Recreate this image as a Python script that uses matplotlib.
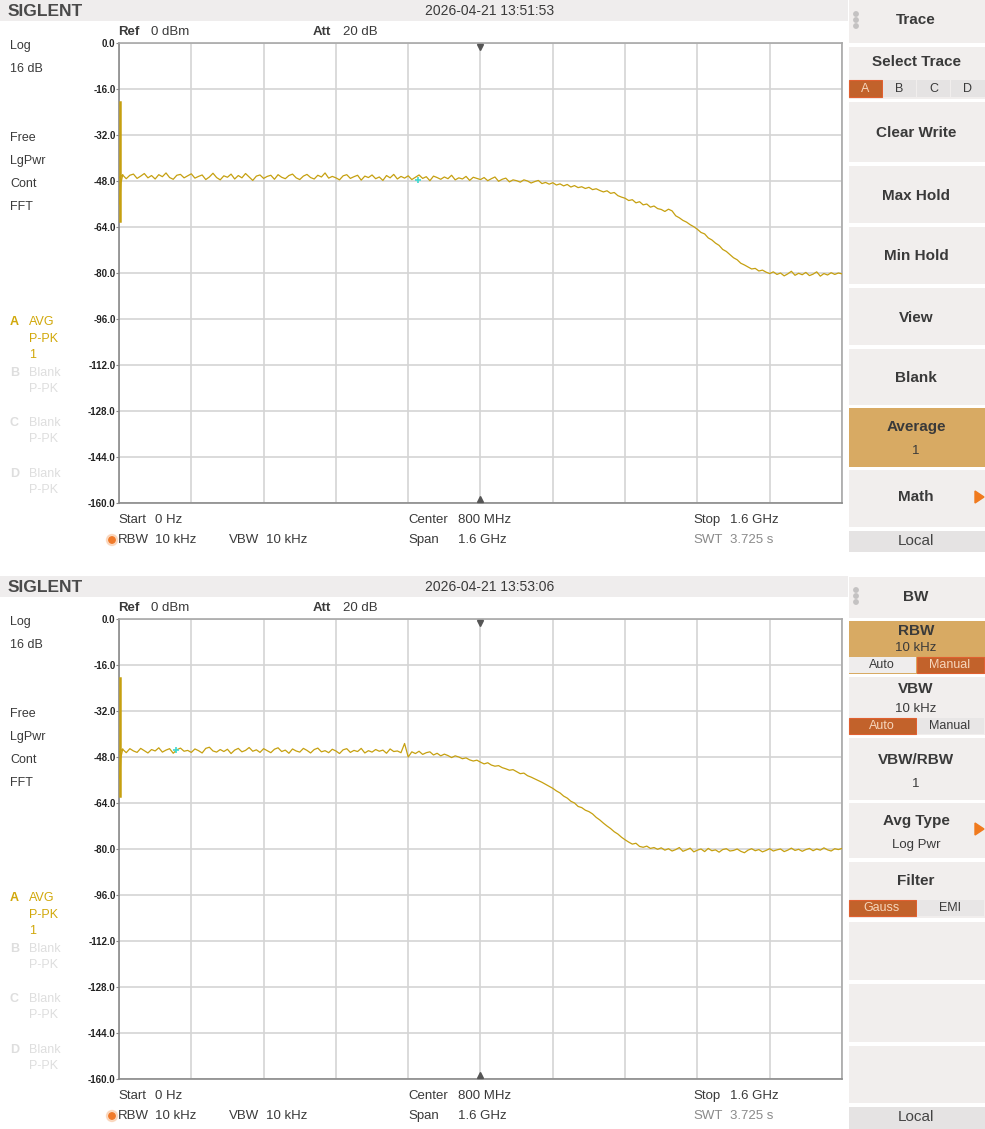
import numpy as np
import matplotlib
matplotlib.use("Agg")
import matplotlib.pyplot as plt
from matplotlib.patches import Rectangle, Circle, Polygon

plt.rcParams['font.family'] = ['Liberation Sans', 'DejaVu Sans']

# ---------------- data ----------------
START_MHZ = 0
STOP_MHZ = 1600
REF_DBM = 0.0
DB_PER_DIV = 16
N_DIV = 10
Y_TICKS = [0.0, -16.0, -32.0, -48.0, -64.0, -80.0, -96.0, -112.0, -128.0, -144.0, -160.0]
Y_TICK_LABELS = ["0.0", "-16.0", "-32.0", "-48.0", "-64.0", "-80.0", "-96.0",
                 "-112.0", "-128.0", "-144.0", "-160.0"]

# DC spike at 0 Hz (top level, bottom level) for each capture
SPIKE_TOP = [-20.5, -62.0]
SPIKE_BOTTOM = [-20.5, -61.5]

# Trace A, first capture (201 sweep points, 0 .. 1600 MHz)
TRACE_TOP = [
    -46.8, -45.9, -47.2, -46.0, -45.6, -47.1, -46.3, -45.4, -46.9, -46.1,
    -47.3, -45.8, -46.5, -45.2, -46.8, -47.4, -46.0, -45.7, -46.9, -46.2,
    -45.5, -47.0, -46.4, -45.9, -47.5, -46.6, -45.3, -46.8, -47.6, -46.2,
    -46.7, -45.6, -47.3, -46.1, -46.9, -45.4, -46.6, -47.8, -46.3, -45.9,
    -47.1, -46.4, -46.0, -47.4, -45.8, -46.7, -47.2, -46.1, -45.6, -46.9,
    -47.5, -46.3, -45.7, -46.8, -47.3, -46.0, -46.6, -45.2, -47.0, -46.4,
    -46.9, -47.6, -46.2, -45.8, -47.1, -46.5, -46.0, -47.7, -46.3, -46.8,
    -45.9, -47.2, -46.6, -47.8, -46.1, -46.9, -45.7, -47.3, -46.4, -47.0,
    -46.2, -47.5, -46.7, -45.9, -47.1, -46.5, -47.9, -46.3, -46.8, -47.4,
    -46.6, -47.2, -46.0, -47.6, -46.9, -47.3, -46.4, -47.8, -46.7, -47.1,
    -47.5, -46.8, -47.9, -47.2, -46.6, -48.1, -47.4, -47.0, -48.3, -47.6,
    -47.9, -48.4, -47.6, -48.0, -48.7, -48.2, -47.8, -48.9, -48.5, -49.1,
    -48.6, -49.4, -49.0, -49.7, -49.2, -50.1, -49.6, -50.3, -50.0, -50.6,
    -50.2, -51.0, -50.7, -51.3, -51.8, -51.4, -52.3, -52.0, -53.1, -53.6,
    -54.0, -54.8, -54.5, -55.6, -55.2, -56.3, -56.0, -57.1, -56.7, -57.6,
    -57.9, -58.6, -57.8, -58.4, -60.1, -60.8, -61.7, -62.3, -63.2, -63.9,
    -64.8, -65.9, -66.4, -67.8, -68.5, -69.6, -70.4, -71.8, -72.5, -73.6,
    -74.7, -75.4, -76.6, -77.2, -77.9, -78.6, -78.4, -79.3, -79.0, -79.7,
    -80.2, -79.6, -80.5, -80.0, -81.0, -80.3, -79.4, -80.8, -80.1, -80.6,
    -79.8, -80.9, -80.4, -79.6, -81.1, -80.2, -80.7, -79.9, -80.5, -80.0,
    -80.3,
]

# Trace A, second capture
TRACE_BOTTOM = [
    -46.2, -45.3, -46.5, -45.1, -45.9, -46.4, -45.0, -45.8, -46.6, -45.4,
    -45.9, -44.8, -46.3, -45.6, -45.1, -46.7, -45.5, -44.9, -46.0, -45.7,
    -46.4, -45.2, -45.8, -46.6, -45.0, -44.6, -45.9, -46.3, -45.4, -46.1,
    -45.3, -46.8, -45.6, -45.0, -46.2, -45.7, -44.7, -46.0, -45.5, -46.4,
    -45.1, -45.8, -46.5, -45.3, -44.8, -46.1, -45.6, -46.7, -45.2, -45.9,
    -46.3, -45.0, -45.7, -46.6, -45.4, -44.9, -46.2, -45.8, -46.5, -45.3,
    -45.9, -46.8, -45.5, -45.1, -46.4, -45.7, -46.1, -45.0, -46.6, -45.8,
    -46.3, -45.4, -46.0, -45.6, -46.7, -45.2, -46.1, -45.9, -46.5, -43.3,
    -48.0, -46.2, -46.8, -46.0, -47.1, -46.5, -46.2, -47.3, -46.7, -47.6,
    -47.0, -47.5, -48.2, -47.6, -48.0, -48.6, -48.3, -49.0, -49.4, -49.1,
    -49.8, -50.4, -50.0, -50.8, -51.2, -51.0, -51.7, -52.1, -52.6, -52.4,
    -53.1, -53.8, -53.6, -54.5, -55.0, -55.6, -56.2, -56.8, -57.5, -58.2,
    -58.9, -59.8, -60.5, -61.6, -62.3, -63.4, -64.0, -65.2, -65.6, -66.5,
    -67.0, -67.8, -69.0, -69.9, -71.0, -72.0, -72.9, -74.0, -74.8, -75.9,
    -76.8, -77.6, -78.3, -78.0, -79.1, -79.4, -79.0, -79.8, -79.5, -80.1,
    -79.6, -80.4, -79.9, -80.7, -80.2, -79.5, -80.8, -80.3, -79.7, -81.0,
    -80.4, -80.0, -80.9, -79.8, -80.6, -80.3, -81.1, -80.2, -79.9, -80.7,
    -80.5, -80.0, -80.8, -81.3, -80.4, -79.9, -80.6, -80.2, -81.0, -80.5,
    -79.9, -80.7, -80.3, -80.0, -80.9, -80.4, -79.7, -80.5, -80.1, -80.8,
    -80.2, -79.8, -80.6, -80.0, -80.4, -79.6, -80.3, -80.7, -79.9, -80.2,
    -79.8,
]

# cyan marker positions (MHz, dBm)
MARKER_TOP = (661, -47.6)
MARKER_BOTTOM = (126, -45.6)

TIMESTAMPS = ["2026-04-21 13:51:53", "2026-04-21 13:53:06"]

# ---------------- figure ----------------
W, H = 985, 1129
fig = plt.figure(figsize=(W / 100, H / 100), dpi=100)
fig.patch.set_facecolor('white')

ui = fig.add_axes([0, 0, 1, 1])
ui.set_xlim(0, W)
ui.set_ylim(H, 0)
ui.axis('off')
ui.set_zorder(0)

TRACE_COL = '#C6A010'
DARK = '#3a3a3a'
MENU_BG = '#F1EEED'
TAN = '#D8AA63'
ORANGE = '#C2622B'
GRAYBTN = '#E5E3E3'


def rect(x0, y0, x1, y1, color, z=1, ec='none', lw=0):
    ui.add_patch(Rectangle((x0, y0), x1 - x0, y1 - y0, facecolor=color,
                           edgecolor=ec, lw=lw, zorder=z))


def txt(x, y, s, size=9.5, color=DARK, weight='normal', ha='left'):
    ui.text(x, y, s, fontsize=size, color=color, fontweight=weight,
            ha=ha, va='center', zorder=5)


def px_axes(x0, y0, x1, y1):
    return fig.add_axes([x0 / W, 1 - y1 / H, (x1 - x0) / W, (y1 - y0) / H])


def draw_panel(off, trace, spike, marker, stamp):
    # header bar
    rect(0, off, 848, off + 21, '#EFEDED')
    txt(8, off + 11, "SIGLENT", size=12.5, color='#4a4a4a', weight='bold')
    txt(490, off + 11, stamp, size=10, color=DARK, ha='center')
    # ref / att
    txt(118, off + 32, "Ref", size=9.5, weight='bold')
    txt(151, off + 32, "0 dBm", size=9.5)
    txt(313, off + 32, "Att", size=9.5, weight='bold')
    txt(343, off + 32, "20 dB", size=9.5)
    # left column
    for s, y in [("Log", 46), ("16 dB", 69), ("Free", 138), ("LgPwr", 161),
                 ("Cont", 184), ("FFT", 207)]:
        txt(10, off + y, s, size=9)
    gold = '#D1A80A'
    txt(10, off + 322, "A", size=9, color=gold, weight='bold')
    txt(29, off + 322, "AVG", size=9, color=gold)
    txt(29, off + 339, "P-PK", size=9, color=gold)
    txt(29, off + 355, "1", size=9, color=gold)
    faint = '#DEDEDE'
    for letter, y in [("B", 373), ("C", 423), ("D", 474)]:
        txt(10, off + y, letter, size=9, color=faint, weight='bold')
        txt(29, off + y, "Blank", size=9, color=faint)
        txt(29, off + y + 16, "P-PK", size=9, color=faint)
    # bottom info
    txt(118, off + 520, "Start", size=9.5)
    txt(155, off + 520, "0 Hz", size=9.5)
    txt(408, off + 520, "Center", size=9.5)
    txt(458, off + 520, "800 MHz", size=9.5)
    txt(693, off + 520, "Stop", size=9.5)
    txt(730, off + 520, "1.6 GHz", size=9.5)
    ui.add_patch(Circle((112, off + 540), 3.2, color='#F07A2A', zorder=5))
    ui.add_patch(Circle((112, off + 540), 5.5, color='#F9C9A6', alpha=0.6, zorder=4))
    txt(118, off + 540, "RBW", size=9.5)
    txt(155, off + 540, "10 kHz", size=9.5)
    txt(229, off + 540, "VBW", size=9.5)
    txt(266, off + 540, "10 kHz", size=9.5)
    txt(408, off + 540, "Span", size=9.5)
    txt(458, off + 540, "1.6 GHz", size=9.5)
    txt(693, off + 540, "SWT", size=9.5, color='#8a8a8a')
    txt(730, off + 540, "3.725 s", size=9.5, color='#8a8a8a')

    # plot area
    ax = px_axes(119, off + 43, 842, off + 503)
    ax.set_zorder(2)
    ax.set_facecolor('white')
    ax.set_xlim(START_MHZ, STOP_MHZ)
    ax.set_ylim(REF_DBM - DB_PER_DIV * N_DIV, REF_DBM)
    ax.set_xticks(np.linspace(START_MHZ, STOP_MHZ, N_DIV + 1))
    ax.set_yticks(Y_TICKS)
    ax.set_yticklabels(Y_TICK_LABELS, fontsize=7, fontweight='bold', color='#222')
    ax.tick_params(axis='x', length=0, labelbottom=False)
    ax.tick_params(axis='y', length=2, pad=0.5, color='#888')
    ax.grid(True, color='#D4D4D4', lw=1.2)
    ax.set_axisbelow(True)
    for side, sp in ax.spines.items():
        sp.set_color('#8a8a8a' if side in ('left', 'bottom') else '#A8A8A8')
        sp.set_linewidth(1.2)
    freqs = np.linspace(START_MHZ, STOP_MHZ, len(trace))
    ax.plot([1.5, 1.5], [spike[0], spike[1]], color=TRACE_COL, lw=1.8,
            zorder=4, clip_on=False)
    ax.plot([1.5, 4, 8], [spike[1] + 6, trace[0] - 2, trace[1]],
            color=TRACE_COL, lw=1.0, zorder=3)
    ax.plot(freqs, trace, color=TRACE_COL, lw=0.9, zorder=3)
    ax.plot([marker[0]], [marker[1]], marker='+', color='#3FD8D0', ms=5,
            mew=1.2, zorder=4)
    # center triangles
    ax.plot([800], [-1.3], marker='v', color='#555555', ms=5, clip_on=False, zorder=5)
    ax.plot([800], [-158.7], marker='^', color='#555555', ms=5, clip_on=False, zorder=5)
    return ax


draw_panel(0, TRACE_TOP, SPIKE_TOP, MARKER_TOP, TIMESTAMPS[0])
draw_panel(576, TRACE_BOTTOM, SPIKE_BOTTOM, MARKER_BOTTOM, TIMESTAMPS[1])

# ---------------- right menus ----------------
def dots(y):
    for dy in (-6, 0, 6):
        ui.add_patch(Circle((856, y + dy), 2.2, color='#C4C2C2', zorder=5))


def arrow(y):
    ui.add_patch(Polygon([[975, y - 6], [975, y + 6], [984, y]], closed=True,
                         color='#F07A1E', zorder=5))


MB = 11  # menu bold size

# top menu
rect(849, 0, 985, 43, MENU_BG)
dots(20)
txt(916, 20, "Trace", size=MB, weight='bold', ha='center')
rect(849, 47, 985, 99, MENU_BG)
txt(916, 62, "Select Trace", size=MB, weight='bold', ha='center')
for i, (lab, x0, x1) in enumerate([("A", 849, 882), ("B", 883, 916),
                                    ("C", 917, 950), ("D", 951, 985)]):
    if i == 0:
        rect(x0, 80, x1, 97, ORANGE, z=2, ec='#E06030', lw=0.8)
        txt((x0 + x1) / 2, 88.5, lab, size=9, color='#F6D6BC', ha='center')
    else:
        rect(x0, 80, x1, 97, GRAYBTN, z=2)
        txt((x0 + x1) / 2, 88.5, lab, size=9, color=DARK, ha='center')
for lab, y0, y1 in [("Clear Write", 102, 162), ("Max Hold", 166, 223),
                    ("Min Hold", 227, 284), ("View", 288, 345), ("Blank", 349, 405)]:
    rect(849, y0, 985, y1, MENU_BG)
    txt(916, (y0 + y1) / 2 + 1, lab, size=MB, weight='bold', ha='center')
rect(849, 408, 985, 467, TAN)
txt(916, 427, "Average", size=MB, weight='bold', ha='center')
txt(916, 451, "1", size=9.5, ha='center')
rect(849, 470, 985, 527, MENU_BG)
txt(916, 497, "Math", size=MB, weight='bold', ha='center')
arrow(497)
rect(849, 531, 985, 552, GRAYBTN)
txt(916, 541, "Local", size=11, ha='center', color='#444')

# bottom menu
rect(849, 577, 985, 618, MENU_BG)
dots(596)
txt(916, 597, "BW", size=MB, weight='bold', ha='center')
rect(849, 621, 985, 674, TAN)
txt(916, 631, "RBW", size=MB, weight='bold', ha='center')
txt(916, 648, "10 kHz", size=9.5, ha='center')
rect(849, 657, 916, 673, '#EFEDED', z=2)
txt(882, 665, "Auto", size=9, ha='center')
rect(917, 657, 984, 673, ORANGE, z=2, ec='#E06030', lw=0.8)
txt(950, 665, "Manual", size=9, color='#F6D6BC', ha='center')

rect(849, 677, 985, 735, MENU_BG)
txt(916, 689, "VBW", size=MB, weight='bold', ha='center')
txt(916, 709, "10 kHz", size=9.5, ha='center')
rect(849, 718, 916, 734, ORANGE, z=2, ec='#E06030', lw=0.8)
txt(882, 726, "Auto", size=9, color='#F6D6BC', ha='center')
rect(917, 718, 984, 734, '#E8E6E6', z=2)
txt(950, 726, "Manual", size=9, ha='center')

rect(849, 738, 985, 800, MENU_BG)
txt(916, 760, "VBW/RBW", size=MB, weight='bold', ha='center')
txt(916, 784, "1", size=9.5, ha='center')

rect(849, 803, 985, 858, MENU_BG)
txt(916, 821, "Avg Type", size=MB, weight='bold', ha='center')
txt(916, 845, "Log Pwr", size=9.5, ha='center')
arrow(829)

rect(849, 862, 985, 918, MENU_BG)
txt(916, 881, "Filter", size=MB, weight='bold', ha='center')
rect(849, 900, 916, 916, ORANGE, z=2, ec='#E06030', lw=0.8)
txt(882, 908, "Gauss", size=9, color='#F6D6BC', ha='center')
rect(917, 900, 984, 916, '#E8E6E6', z=2)
txt(950, 908, "EMI", size=9, ha='center')

for y0, y1 in [(922, 980), (984, 1042), (1046, 1103)]:
    rect(849, y0, 985, y1, MENU_BG)
rect(849, 1107, 985, 1129, GRAYBTN)
txt(916, 1117, "Local", size=11, ha='center', color='#444')

fig.savefig("out.png", dpi=100, facecolor='white')
